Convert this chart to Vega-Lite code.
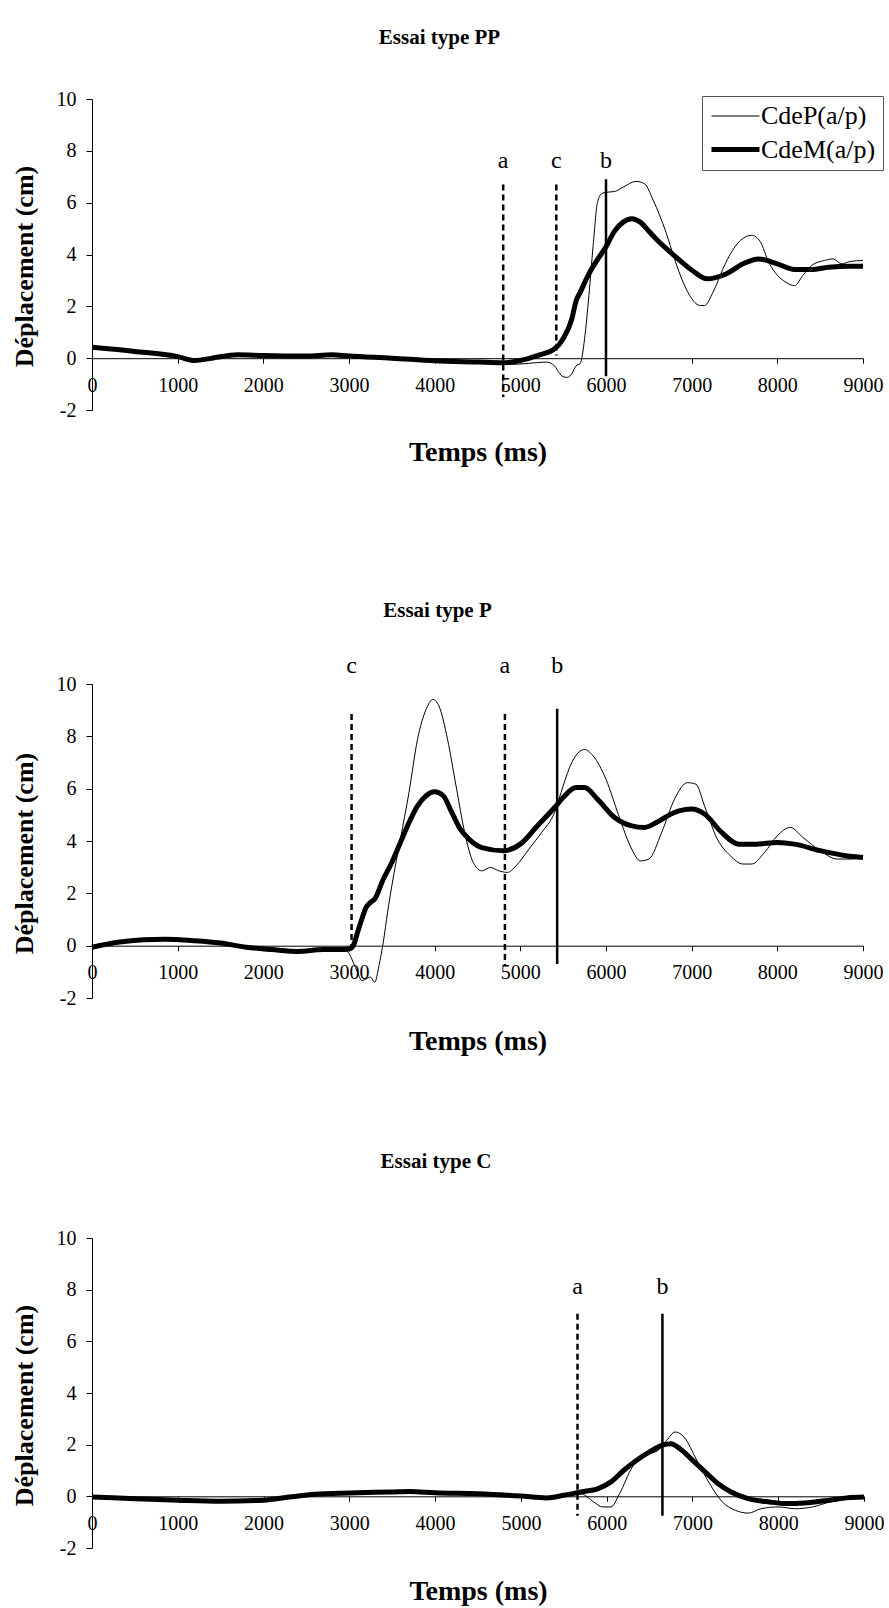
{
 "$schema": "https://vega.github.io/schema/vega-lite/v6.json",
 "background": "white",
 "padding": {"left": 11, "top": 27, "right": 0, "bottom": 0},
 "datasets": {
  "lines": [
   {"p":"PP","s":"CdeP(a/p)","t":0,"d":0.42},{"p":"PP","s":"CdeP(a/p)","t":500,"d":0.26},{"p":"PP","s":"CdeP(a/p)","t":1000,"d":0.06},{"p":"PP","s":"CdeP(a/p)","t":1200,"d":-0.09},{"p":"PP","s":"CdeP(a/p)","t":1400,"d":0},{"p":"PP","s":"CdeP(a/p)","t":1700,"d":0.15},{"p":"PP","s":"CdeP(a/p)","t":2000,"d":0.1},{"p":"PP","s":"CdeP(a/p)","t":2500,"d":0.08},{"p":"PP","s":"CdeP(a/p)","t":2800,"d":0.13},{"p":"PP","s":"CdeP(a/p)","t":3000,"d":0.08},{"p":"PP","s":"CdeP(a/p)","t":3500,"d":0},{"p":"PP","s":"CdeP(a/p)","t":4000,"d":-0.1},{"p":"PP","s":"CdeP(a/p)","t":4500,"d":-0.15},{"p":"PP","s":"CdeP(a/p)","t":4800,"d":-0.2},{"p":"PP","s":"CdeP(a/p)","t":4900,"d":-0.24},{"p":"PP","s":"CdeP(a/p)","t":5100,"d":-0.2},{"p":"PP","s":"CdeP(a/p)","t":5300,"d":-0.15},{"p":"PP","s":"CdeP(a/p)","t":5400,"d":-0.3},{"p":"PP","s":"CdeP(a/p)","t":5450,"d":-0.55},{"p":"PP","s":"CdeP(a/p)","t":5500,"d":-0.72},{"p":"PP","s":"CdeP(a/p)","t":5550,"d":-0.74},{"p":"PP","s":"CdeP(a/p)","t":5600,"d":-0.6},{"p":"PP","s":"CdeP(a/p)","t":5650,"d":-0.3},{"p":"PP","s":"CdeP(a/p)","t":5700,"d":-0.2},{"p":"PP","s":"CdeP(a/p)","t":5750,"d":0.75},{"p":"PP","s":"CdeP(a/p)","t":5800,"d":2.4},{"p":"PP","s":"CdeP(a/p)","t":5850,"d":4.35},{"p":"PP","s":"CdeP(a/p)","t":5900,"d":6.0},{"p":"PP","s":"CdeP(a/p)","t":5950,"d":6.35},{"p":"PP","s":"CdeP(a/p)","t":6000,"d":6.4},{"p":"PP","s":"CdeP(a/p)","t":6100,"d":6.43},{"p":"PP","s":"CdeP(a/p)","t":6200,"d":6.6},{"p":"PP","s":"CdeP(a/p)","t":6350,"d":6.82},{"p":"PP","s":"CdeP(a/p)","t":6450,"d":6.73},{"p":"PP","s":"CdeP(a/p)","t":6550,"d":6.1},{"p":"PP","s":"CdeP(a/p)","t":6700,"d":4.86},{"p":"PP","s":"CdeP(a/p)","t":6800,"d":3.83},{"p":"PP","s":"CdeP(a/p)","t":6900,"d":2.93},{"p":"PP","s":"CdeP(a/p)","t":7000,"d":2.3},{"p":"PP","s":"CdeP(a/p)","t":7100,"d":2.03},{"p":"PP","s":"CdeP(a/p)","t":7150,"d":2.03},{"p":"PP","s":"CdeP(a/p)","t":7250,"d":2.55},{"p":"PP","s":"CdeP(a/p)","t":7400,"d":3.7},{"p":"PP","s":"CdeP(a/p)","t":7550,"d":4.48},{"p":"PP","s":"CdeP(a/p)","t":7700,"d":4.74},{"p":"PP","s":"CdeP(a/p)","t":7800,"d":4.5},{"p":"PP","s":"CdeP(a/p)","t":7900,"d":3.7},{"p":"PP","s":"CdeP(a/p)","t":8000,"d":3.2},{"p":"PP","s":"CdeP(a/p)","t":8100,"d":2.93},{"p":"PP","s":"CdeP(a/p)","t":8200,"d":2.8},{"p":"PP","s":"CdeP(a/p)","t":8300,"d":3.2},{"p":"PP","s":"CdeP(a/p)","t":8400,"d":3.58},{"p":"PP","s":"CdeP(a/p)","t":8550,"d":3.77},{"p":"PP","s":"CdeP(a/p)","t":8650,"d":3.83},{"p":"PP","s":"CdeP(a/p)","t":8750,"d":3.64},{"p":"PP","s":"CdeP(a/p)","t":8850,"d":3.73},{"p":"PP","s":"CdeP(a/p)","t":9000,"d":3.77},
   {"p":"PP","s":"CdeM(a/p)","t":0,"d":0.42},{"p":"PP","s":"CdeM(a/p)","t":500,"d":0.26},{"p":"PP","s":"CdeM(a/p)","t":1000,"d":0.06},{"p":"PP","s":"CdeM(a/p)","t":1200,"d":-0.09},{"p":"PP","s":"CdeM(a/p)","t":1400,"d":0},{"p":"PP","s":"CdeM(a/p)","t":1700,"d":0.13},{"p":"PP","s":"CdeM(a/p)","t":2000,"d":0.1},{"p":"PP","s":"CdeM(a/p)","t":2500,"d":0.08},{"p":"PP","s":"CdeM(a/p)","t":2800,"d":0.13},{"p":"PP","s":"CdeM(a/p)","t":3000,"d":0.08},{"p":"PP","s":"CdeM(a/p)","t":3500,"d":0},{"p":"PP","s":"CdeM(a/p)","t":4000,"d":-0.1},{"p":"PP","s":"CdeM(a/p)","t":4500,"d":-0.15},{"p":"PP","s":"CdeM(a/p)","t":4800,"d":-0.18},{"p":"PP","s":"CdeM(a/p)","t":5000,"d":-0.09},{"p":"PP","s":"CdeM(a/p)","t":5200,"d":0.1},{"p":"PP","s":"CdeM(a/p)","t":5400,"d":0.36},{"p":"PP","s":"CdeM(a/p)","t":5500,"d":0.75},{"p":"PP","s":"CdeM(a/p)","t":5600,"d":1.5},{"p":"PP","s":"CdeM(a/p)","t":5650,"d":2.2},{"p":"PP","s":"CdeM(a/p)","t":5700,"d":2.55},{"p":"PP","s":"CdeM(a/p)","t":5800,"d":3.25},{"p":"PP","s":"CdeM(a/p)","t":5900,"d":3.8},{"p":"PP","s":"CdeM(a/p)","t":6000,"d":4.3},{"p":"PP","s":"CdeM(a/p)","t":6100,"d":4.9},{"p":"PP","s":"CdeM(a/p)","t":6200,"d":5.25},{"p":"PP","s":"CdeM(a/p)","t":6300,"d":5.38},{"p":"PP","s":"CdeM(a/p)","t":6400,"d":5.25},{"p":"PP","s":"CdeM(a/p)","t":6500,"d":4.9},{"p":"PP","s":"CdeM(a/p)","t":6600,"d":4.55},{"p":"PP","s":"CdeM(a/p)","t":6800,"d":3.95},{"p":"PP","s":"CdeM(a/p)","t":7000,"d":3.4},{"p":"PP","s":"CdeM(a/p)","t":7180,"d":3.06},{"p":"PP","s":"CdeM(a/p)","t":7400,"d":3.25},{"p":"PP","s":"CdeM(a/p)","t":7600,"d":3.64},{"p":"PP","s":"CdeM(a/p)","t":7780,"d":3.83},{"p":"PP","s":"CdeM(a/p)","t":8000,"d":3.64},{"p":"PP","s":"CdeM(a/p)","t":8200,"d":3.42},{"p":"PP","s":"CdeM(a/p)","t":8400,"d":3.42},{"p":"PP","s":"CdeM(a/p)","t":8600,"d":3.51},{"p":"PP","s":"CdeM(a/p)","t":8850,"d":3.55},{"p":"PP","s":"CdeM(a/p)","t":9000,"d":3.55},
   {"p":"P","s":"CdeP(a/p)","t":0,"d":-0.06},{"p":"P","s":"CdeP(a/p)","t":300,"d":0.13},{"p":"P","s":"CdeP(a/p)","t":600,"d":0.23},{"p":"P","s":"CdeP(a/p)","t":850,"d":0.25},{"p":"P","s":"CdeP(a/p)","t":1200,"d":0.19},{"p":"P","s":"CdeP(a/p)","t":1500,"d":0.1},{"p":"P","s":"CdeP(a/p)","t":1800,"d":-0.06},{"p":"P","s":"CdeP(a/p)","t":2100,"d":-0.15},{"p":"P","s":"CdeP(a/p)","t":2400,"d":-0.22},{"p":"P","s":"CdeP(a/p)","t":2700,"d":-0.15},{"p":"P","s":"CdeP(a/p)","t":2900,"d":-0.15},{"p":"P","s":"CdeP(a/p)","t":2950,"d":-0.15},{"p":"P","s":"CdeP(a/p)","t":3000,"d":-0.3},{"p":"P","s":"CdeP(a/p)","t":3050,"d":-0.64},{"p":"P","s":"CdeP(a/p)","t":3100,"d":-1.02},{"p":"P","s":"CdeP(a/p)","t":3150,"d":-1.34},{"p":"P","s":"CdeP(a/p)","t":3200,"d":-1.27},{"p":"P","s":"CdeP(a/p)","t":3250,"d":-1.2},{"p":"P","s":"CdeP(a/p)","t":3300,"d":-1.4},{"p":"P","s":"CdeP(a/p)","t":3350,"d":-0.76},{"p":"P","s":"CdeP(a/p)","t":3400,"d":0.13},{"p":"P","s":"CdeP(a/p)","t":3450,"d":1.27},{"p":"P","s":"CdeP(a/p)","t":3500,"d":2.29},{"p":"P","s":"CdeP(a/p)","t":3600,"d":4.07},{"p":"P","s":"CdeP(a/p)","t":3700,"d":5.85},{"p":"P","s":"CdeP(a/p)","t":3800,"d":7.89},{"p":"P","s":"CdeP(a/p)","t":3900,"d":9.03},{"p":"P","s":"CdeP(a/p)","t":3980,"d":9.41},{"p":"P","s":"CdeP(a/p)","t":4050,"d":9.16},{"p":"P","s":"CdeP(a/p)","t":4150,"d":7.89},{"p":"P","s":"CdeP(a/p)","t":4250,"d":6.1},{"p":"P","s":"CdeP(a/p)","t":4350,"d":4.33},{"p":"P","s":"CdeP(a/p)","t":4450,"d":3.18},{"p":"P","s":"CdeP(a/p)","t":4550,"d":2.86},{"p":"P","s":"CdeP(a/p)","t":4650,"d":2.99},{"p":"P","s":"CdeP(a/p)","t":4750,"d":2.86},{"p":"P","s":"CdeP(a/p)","t":4850,"d":2.8},{"p":"P","s":"CdeP(a/p)","t":4950,"d":3.05},{"p":"P","s":"CdeP(a/p)","t":5100,"d":3.69},{"p":"P","s":"CdeP(a/p)","t":5250,"d":4.33},{"p":"P","s":"CdeP(a/p)","t":5400,"d":5.09},{"p":"P","s":"CdeP(a/p)","t":5500,"d":6.11},{"p":"P","s":"CdeP(a/p)","t":5600,"d":7.0},{"p":"P","s":"CdeP(a/p)","t":5700,"d":7.44},{"p":"P","s":"CdeP(a/p)","t":5750,"d":7.5},{"p":"P","s":"CdeP(a/p)","t":5850,"d":7.25},{"p":"P","s":"CdeP(a/p)","t":6000,"d":6.36},{"p":"P","s":"CdeP(a/p)","t":6150,"d":4.96},{"p":"P","s":"CdeP(a/p)","t":6300,"d":3.69},{"p":"P","s":"CdeP(a/p)","t":6400,"d":3.24},{"p":"P","s":"CdeP(a/p)","t":6500,"d":3.31},{"p":"P","s":"CdeP(a/p)","t":6650,"d":4.33},{"p":"P","s":"CdeP(a/p)","t":6800,"d":5.6},{"p":"P","s":"CdeP(a/p)","t":6950,"d":6.23},{"p":"P","s":"CdeP(a/p)","t":7050,"d":6.17},{"p":"P","s":"CdeP(a/p)","t":7150,"d":5.34},{"p":"P","s":"CdeP(a/p)","t":7300,"d":4.07},{"p":"P","s":"CdeP(a/p)","t":7450,"d":3.44},{"p":"P","s":"CdeP(a/p)","t":7600,"d":3.12},{"p":"P","s":"CdeP(a/p)","t":7700,"d":3.12},{"p":"P","s":"CdeP(a/p)","t":7850,"d":3.56},{"p":"P","s":"CdeP(a/p)","t":8000,"d":4.2},{"p":"P","s":"CdeP(a/p)","t":8150,"d":4.52},{"p":"P","s":"CdeP(a/p)","t":8300,"d":4.13},{"p":"P","s":"CdeP(a/p)","t":8500,"d":3.63},{"p":"P","s":"CdeP(a/p)","t":8700,"d":3.31},{"p":"P","s":"CdeP(a/p)","t":8850,"d":3.31},{"p":"P","s":"CdeP(a/p)","t":9000,"d":3.37},
   {"p":"P","s":"CdeM(a/p)","t":0,"d":-0.06},{"p":"P","s":"CdeM(a/p)","t":300,"d":0.13},{"p":"P","s":"CdeM(a/p)","t":600,"d":0.23},{"p":"P","s":"CdeM(a/p)","t":850,"d":0.25},{"p":"P","s":"CdeM(a/p)","t":1200,"d":0.19},{"p":"P","s":"CdeM(a/p)","t":1500,"d":0.1},{"p":"P","s":"CdeM(a/p)","t":1800,"d":-0.06},{"p":"P","s":"CdeM(a/p)","t":2100,"d":-0.15},{"p":"P","s":"CdeM(a/p)","t":2400,"d":-0.22},{"p":"P","s":"CdeM(a/p)","t":2700,"d":-0.15},{"p":"P","s":"CdeM(a/p)","t":2900,"d":-0.15},{"p":"P","s":"CdeM(a/p)","t":3000,"d":-0.13},{"p":"P","s":"CdeM(a/p)","t":3050,"d":0},{"p":"P","s":"CdeM(a/p)","t":3100,"d":0.51},{"p":"P","s":"CdeM(a/p)","t":3150,"d":1.02},{"p":"P","s":"CdeM(a/p)","t":3200,"d":1.46},{"p":"P","s":"CdeM(a/p)","t":3250,"d":1.65},{"p":"P","s":"CdeM(a/p)","t":3300,"d":1.78},{"p":"P","s":"CdeM(a/p)","t":3400,"d":2.54},{"p":"P","s":"CdeM(a/p)","t":3500,"d":3.18},{"p":"P","s":"CdeM(a/p)","t":3600,"d":3.94},{"p":"P","s":"CdeM(a/p)","t":3700,"d":4.7},{"p":"P","s":"CdeM(a/p)","t":3800,"d":5.34},{"p":"P","s":"CdeM(a/p)","t":3900,"d":5.73},{"p":"P","s":"CdeM(a/p)","t":4000,"d":5.88},{"p":"P","s":"CdeM(a/p)","t":4100,"d":5.73},{"p":"P","s":"CdeM(a/p)","t":4200,"d":5.09},{"p":"P","s":"CdeM(a/p)","t":4300,"d":4.45},{"p":"P","s":"CdeM(a/p)","t":4400,"d":4.07},{"p":"P","s":"CdeM(a/p)","t":4550,"d":3.75},{"p":"P","s":"CdeM(a/p)","t":4800,"d":3.63},{"p":"P","s":"CdeM(a/p)","t":5000,"d":3.88},{"p":"P","s":"CdeM(a/p)","t":5200,"d":4.58},{"p":"P","s":"CdeM(a/p)","t":5400,"d":5.28},{"p":"P","s":"CdeM(a/p)","t":5500,"d":5.66},{"p":"P","s":"CdeM(a/p)","t":5650,"d":6.04},{"p":"P","s":"CdeM(a/p)","t":5750,"d":6.04},{"p":"P","s":"CdeM(a/p)","t":5900,"d":5.6},{"p":"P","s":"CdeM(a/p)","t":6100,"d":4.9},{"p":"P","s":"CdeM(a/p)","t":6300,"d":4.58},{"p":"P","s":"CdeM(a/p)","t":6450,"d":4.52},{"p":"P","s":"CdeM(a/p)","t":6600,"d":4.73},{"p":"P","s":"CdeM(a/p)","t":6800,"d":5.09},{"p":"P","s":"CdeM(a/p)","t":7000,"d":5.22},{"p":"P","s":"CdeM(a/p)","t":7150,"d":5.03},{"p":"P","s":"CdeM(a/p)","t":7350,"d":4.33},{"p":"P","s":"CdeM(a/p)","t":7550,"d":3.88},{"p":"P","s":"CdeM(a/p)","t":7750,"d":3.88},{"p":"P","s":"CdeM(a/p)","t":8000,"d":3.94},{"p":"P","s":"CdeM(a/p)","t":8200,"d":3.88},{"p":"P","s":"CdeM(a/p)","t":8500,"d":3.63},{"p":"P","s":"CdeM(a/p)","t":8800,"d":3.44},{"p":"P","s":"CdeM(a/p)","t":9000,"d":3.37},
   {"p":"C","s":"CdeP(a/p)","t":0,"d":0},{"p":"C","s":"CdeP(a/p)","t":500,"d":-0.06},{"p":"C","s":"CdeP(a/p)","t":1000,"d":-0.12},{"p":"C","s":"CdeP(a/p)","t":1500,"d":-0.15},{"p":"C","s":"CdeP(a/p)","t":2000,"d":-0.12},{"p":"C","s":"CdeP(a/p)","t":2300,"d":-0.03},{"p":"C","s":"CdeP(a/p)","t":2600,"d":0.08},{"p":"C","s":"CdeP(a/p)","t":3000,"d":0.13},{"p":"C","s":"CdeP(a/p)","t":3500,"d":0.17},{"p":"C","s":"CdeP(a/p)","t":3700,"d":0.19},{"p":"C","s":"CdeP(a/p)","t":4000,"d":0.14},{"p":"C","s":"CdeP(a/p)","t":4500,"d":0.1},{"p":"C","s":"CdeP(a/p)","t":5000,"d":0.01},{"p":"C","s":"CdeP(a/p)","t":5300,"d":-0.1},{"p":"C","s":"CdeP(a/p)","t":5500,"d":0.04},{"p":"C","s":"CdeP(a/p)","t":5700,"d":0.1},{"p":"C","s":"CdeP(a/p)","t":5850,"d":-0.22},{"p":"C","s":"CdeP(a/p)","t":5950,"d":-0.41},{"p":"C","s":"CdeP(a/p)","t":6050,"d":-0.41},{"p":"C","s":"CdeP(a/p)","t":6150,"d":0.1},{"p":"C","s":"CdeP(a/p)","t":6300,"d":1.14},{"p":"C","s":"CdeP(a/p)","t":6450,"d":1.59},{"p":"C","s":"CdeP(a/p)","t":6600,"d":1.78},{"p":"C","s":"CdeP(a/p)","t":6700,"d":2.17},{"p":"C","s":"CdeP(a/p)","t":6800,"d":2.49},{"p":"C","s":"CdeP(a/p)","t":6900,"d":2.3},{"p":"C","s":"CdeP(a/p)","t":7050,"d":1.4},{"p":"C","s":"CdeP(a/p)","t":7200,"d":0.49},{"p":"C","s":"CdeP(a/p)","t":7350,"d":-0.22},{"p":"C","s":"CdeP(a/p)","t":7500,"d":-0.54},{"p":"C","s":"CdeP(a/p)","t":7650,"d":-0.65},{"p":"C","s":"CdeP(a/p)","t":7800,"d":-0.48},{"p":"C","s":"CdeP(a/p)","t":8000,"d":-0.41},{"p":"C","s":"CdeP(a/p)","t":8200,"d":-0.48},{"p":"C","s":"CdeP(a/p)","t":8400,"d":-0.41},{"p":"C","s":"CdeP(a/p)","t":8600,"d":-0.22},{"p":"C","s":"CdeP(a/p)","t":8800,"d":-0.09},{"p":"C","s":"CdeP(a/p)","t":9000,"d":0},
   {"p":"C","s":"CdeM(a/p)","t":0,"d":-0.03},{"p":"C","s":"CdeM(a/p)","t":500,"d":-0.09},{"p":"C","s":"CdeM(a/p)","t":1000,"d":-0.15},{"p":"C","s":"CdeM(a/p)","t":1500,"d":-0.19},{"p":"C","s":"CdeM(a/p)","t":2000,"d":-0.15},{"p":"C","s":"CdeM(a/p)","t":2300,"d":-0.03},{"p":"C","s":"CdeM(a/p)","t":2600,"d":0.08},{"p":"C","s":"CdeM(a/p)","t":3000,"d":0.13},{"p":"C","s":"CdeM(a/p)","t":3500,"d":0.17},{"p":"C","s":"CdeM(a/p)","t":3700,"d":0.19},{"p":"C","s":"CdeM(a/p)","t":4000,"d":0.14},{"p":"C","s":"CdeM(a/p)","t":4500,"d":0.1},{"p":"C","s":"CdeM(a/p)","t":5000,"d":0.01},{"p":"C","s":"CdeM(a/p)","t":5300,"d":-0.06},{"p":"C","s":"CdeM(a/p)","t":5500,"d":0.04},{"p":"C","s":"CdeM(a/p)","t":5700,"d":0.17},{"p":"C","s":"CdeM(a/p)","t":5900,"d":0.3},{"p":"C","s":"CdeM(a/p)","t":6050,"d":0.56},{"p":"C","s":"CdeM(a/p)","t":6200,"d":1.01},{"p":"C","s":"CdeM(a/p)","t":6350,"d":1.4},{"p":"C","s":"CdeM(a/p)","t":6500,"d":1.72},{"p":"C","s":"CdeM(a/p)","t":6650,"d":1.98},{"p":"C","s":"CdeM(a/p)","t":6750,"d":2.04},{"p":"C","s":"CdeM(a/p)","t":6850,"d":1.85},{"p":"C","s":"CdeM(a/p)","t":7000,"d":1.4},{"p":"C","s":"CdeM(a/p)","t":7150,"d":0.94},{"p":"C","s":"CdeM(a/p)","t":7300,"d":0.49},{"p":"C","s":"CdeM(a/p)","t":7450,"d":0.17},{"p":"C","s":"CdeM(a/p)","t":7650,"d":-0.09},{"p":"C","s":"CdeM(a/p)","t":7900,"d":-0.22},{"p":"C","s":"CdeM(a/p)","t":8100,"d":-0.28},{"p":"C","s":"CdeM(a/p)","t":8300,"d":-0.26},{"p":"C","s":"CdeM(a/p)","t":8600,"d":-0.15},{"p":"C","s":"CdeM(a/p)","t":8800,"d":-0.06},{"p":"C","s":"CdeM(a/p)","t":9000,"d":-0.03}
  ],
  "events": [
   {"p":"PP","m":"a","t":4800,"top":6.7,"bot":-1.5,"ly":7.6},
   {"p":"PP","m":"c","t":5420,"top":6.7,"bot":0.1,"ly":7.6},
   {"p":"PP","m":"b","t":6000,"top":6.9,"bot":-0.7,"ly":7.6},
   {"p":"P","m":"c","t":3030,"top":8.85,"bot":-0.1,"ly":10.7},
   {"p":"P","m":"a","t":4820,"top":8.85,"bot":-0.75,"ly":10.7},
   {"p":"P","m":"b","t":5430,"top":9.05,"bot":-0.7,"ly":10.7},
   {"p":"C","m":"a","t":5660,"top":7.07,"bot":-0.75,"ly":8.1},
   {"p":"C","m":"b","t":6650,"top":7.07,"bot":-0.75,"ly":8.1}
  ]
 },
 "vconcat": [
  {
   "width": 771, "height": 345,
   "title": {"text": "Essai type PP", "dx": -38, "offset": 41},
   "layer": [
    {"data": {"name": "lines"}, "transform": [{"filter": "datum.p === 'PP'"}],
     "mark": {"type": "line", "interpolate": "monotone", "color": "black"},
     "encoding": {
      "x": {"field": "t", "type": "quantitative", "scale": {"domain": [0, 9000], "nice": false, "zero": false},
            "axis": {"title": "Temps (ms)", "values": [0,1000,2000,3000,4000,5000,6000,7000,8000,9000], "offset": -85.8, "titleY": 94}},
      "y": {"field": "d", "type": "quantitative", "scale": {"domain": [-2, 10], "nice": false, "range": [311, 0]},
            "axis": {"title": "Déplacement (cm)", "values": [-2,0,2,4,6,8,10], "titleX": -68, "titleY": 167}},
      "strokeWidth": {"field": "s", "type": "ordinal", "scale": {"domain": ["CdeP(a/p)", "CdeM(a/p)"], "range": [1, 5]},
                      "legend": {"title": null, "orient": "none", "legendX": 610, "legendY": -3}}
     }},
    {"data": {"name": "events"}, "transform": [{"filter": "datum.p === 'PP'"}],
     "mark": {"type": "rule", "color": "black", "strokeWidth": 2.5},
     "encoding": {
      "x": {"field": "t", "type": "quantitative"},
      "y": {"field": "top", "type": "quantitative"},
      "y2": {"field": "bot"},
      "strokeDash": {"field": "m", "type": "nominal", "scale": {"domain": ["a","b","c"], "range": [[6,4],[10,0],[6,4]]}, "legend": null}
     }},
    {"data": {"name": "events"}, "transform": [{"filter": "datum.p === 'PP'"}],
     "mark": {"type": "text", "fontSize": 24, "font": "Liberation Serif", "baseline": "middle", "align": "center", "color": "black"},
     "encoding": {
      "x": {"field": "t", "type": "quantitative"},
      "y": {"field": "ly", "type": "quantitative"},
      "text": {"field": "m"}
     }}
   ]
  },
  {
   "width": 771, "height": 314,
   "title": {"text": "Essai type P", "dx": -40, "offset": 33},
   "layer": [
    {"data": {"name": "lines"}, "transform": [{"filter": "datum.p === 'P'"}],
     "mark": {"type": "line", "interpolate": "monotone", "color": "black"},
     "encoding": {
      "x": {"field": "t", "type": "quantitative", "scale": {"domain": [0, 9000], "nice": false, "zero": false},
            "axis": {"title": "Temps (ms)", "values": [0,1000,2000,3000,4000,5000,6000,7000,8000,9000], "offset": -52.3, "titleY": 96}},
      "y": {"field": "d", "type": "quantitative", "scale": {"domain": [-2, 10], "nice": false},
            "axis": {"title": "Déplacement (cm)", "values": [-2,0,2,4,6,8,10], "titleX": -68, "titleY": 169}},
      "strokeWidth": {"field": "s", "type": "ordinal", "scale": {"domain": ["CdeP(a/p)", "CdeM(a/p)"], "range": [1, 5]}, "legend": null}
     }},
    {"data": {"name": "events"}, "transform": [{"filter": "datum.p === 'P'"}],
     "mark": {"type": "rule", "color": "black", "strokeWidth": 2.5},
     "encoding": {
      "x": {"field": "t", "type": "quantitative"},
      "y": {"field": "top", "type": "quantitative"},
      "y2": {"field": "bot"},
      "strokeDash": {"field": "m", "type": "nominal", "scale": {"domain": ["a","b","c"], "range": [[6,4],[10,0],[6,4]]}, "legend": null}
     }},
    {"data": {"name": "events"}, "transform": [{"filter": "datum.p === 'P'"}],
     "mark": {"type": "text", "fontSize": 24, "font": "Liberation Serif", "baseline": "middle", "align": "center", "color": "black", "clip": false},
     "encoding": {
      "x": {"field": "t", "type": "quantitative"},
      "y": {"field": "ly", "type": "quantitative"},
      "text": {"field": "m"}
     }}
   ]
  },
  {
   "width": 772, "height": 310,
   "title": {"text": "Essai type C", "dx": -42, "offset": 56},
   "layer": [
    {"data": {"name": "lines"}, "transform": [{"filter": "datum.p === 'C'"}],
     "mark": {"type": "line", "interpolate": "monotone", "color": "black"},
     "encoding": {
      "x": {"field": "t", "type": "quantitative", "scale": {"domain": [0, 9000], "nice": false, "zero": false},
            "axis": {"title": "Temps (ms)", "values": [0,1000,2000,3000,4000,5000,6000,7000,8000,9000], "offset": -51.7, "titleY": 95}},
      "y": {"field": "d", "type": "quantitative", "scale": {"domain": [-2, 10], "nice": false},
            "axis": {"title": "Déplacement (cm)", "values": [-2,0,2,4,6,8,10], "titleX": -68, "titleY": 167}},
      "strokeWidth": {"field": "s", "type": "ordinal", "scale": {"domain": ["CdeP(a/p)", "CdeM(a/p)"], "range": [1, 5]}, "legend": null}
     }},
    {"data": {"name": "events"}, "transform": [{"filter": "datum.p === 'C'"}],
     "mark": {"type": "rule", "color": "black", "strokeWidth": 2.5},
     "encoding": {
      "x": {"field": "t", "type": "quantitative"},
      "y": {"field": "top", "type": "quantitative"},
      "y2": {"field": "bot"},
      "strokeDash": {"field": "m", "type": "nominal", "scale": {"domain": ["a","b","c"], "range": [[6,4],[10,0],[6,4]]}, "legend": null}
     }},
    {"data": {"name": "events"}, "transform": [{"filter": "datum.p === 'C'"}],
     "mark": {"type": "text", "fontSize": 24, "font": "Liberation Serif", "baseline": "middle", "align": "center", "color": "black"},
     "encoding": {
      "x": {"field": "t", "type": "quantitative"},
      "y": {"field": "ly", "type": "quantitative"},
      "text": {"field": "m"}
     }}
   ]
  }
 ],
 "spacing": 240,
 "bounds": "flush",
 "resolve": {"scale": {"x": "independent", "y": "independent", "strokeWidth": "independent", "strokeDash": "independent"}, "legend": {"strokeWidth": "independent", "strokeDash": "independent"}},
 "config": {
  "view": {"stroke": null},
  "font": "Liberation Serif",
  "title": {"font": "Liberation Serif", "fontSize": 21, "fontWeight": "bold", "color": "black", "anchor": "middle", "frame": "group", "baseline": "alphabetic"},
  "axis": {"domainColor": "black", "tickColor": "black", "labelColor": "black", "titleColor": "black", "labelFont": "Liberation Serif", "labelFontSize": 20, "titleFont": "Liberation Serif", "titleFontSize": 26, "titleFontWeight": "bold", "grid": false, "labelFlush": false, "labelOverlap": false, "domainWidth": 1, "tickWidth": 1, "labelExpr": "'' + datum.value"},
  "axisX": {"tickSize": 5, "labelPadding": 12, "titleBaseline": "middle", "titleFontSize": 28},
  "axisY": {"tickSize": 6, "labelPadding": 10, "titleBaseline": "middle", "titleAngle": 270},
  "legend": {"labelFont": "Liberation Serif", "labelFontSize": 26, "labelColor": "black", "symbolType": "M-2,0H2", "symbolSize": 576, "symbolOffset": 12, "symbolStrokeColor": "black", "strokeColor": "#555", "padding": 7, "rowPadding": 6, "labelOffset": 11}
 }
}
